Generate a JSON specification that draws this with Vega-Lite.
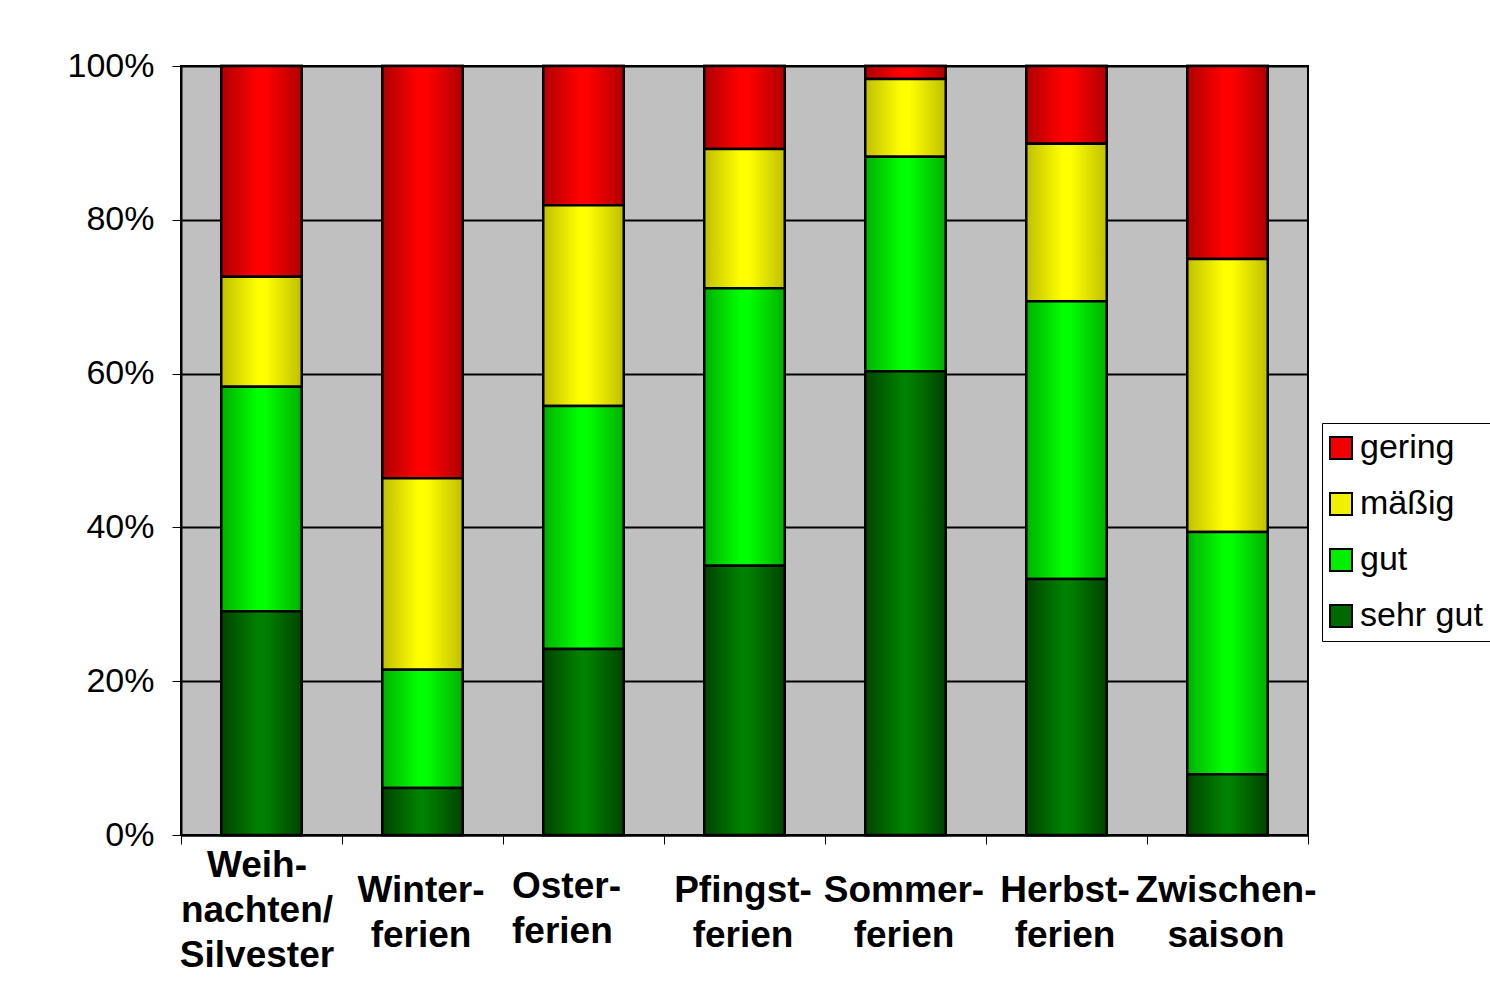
{
  "$schema": "https://vega.github.io/schema/vega-lite/v6.json",
  "width": 1127,
  "height": 769,
  "autosize": {"type": "none"},
  "padding": {"left": 181, "top": 66, "right": 182, "bottom": 166},
  "background": "white",
  "config": {
    "font": "Liberation Sans",
    "view": {"fill": "#C0C0C0", "stroke": "black", "strokeWidth": 2}
  },
  "data": {
    "values": [
      {"Zeit": "Weih-|nachten/|Silvester", "Bewertung": "sehr gut", "Anteil": 29.1},
      {"Zeit": "Weih-|nachten/|Silvester", "Bewertung": "gut", "Anteil": 29.2},
      {"Zeit": "Weih-|nachten/|Silvester", "Bewertung": "mäßig", "Anteil": 14.3},
      {"Zeit": "Weih-|nachten/|Silvester", "Bewertung": "gering", "Anteil": 27.4},
      {"Zeit": "Winter-|ferien", "Bewertung": "sehr gut", "Anteil": 6.1},
      {"Zeit": "Winter-|ferien", "Bewertung": "gut", "Anteil": 15.4},
      {"Zeit": "Winter-|ferien", "Bewertung": "mäßig", "Anteil": 24.9},
      {"Zeit": "Winter-|ferien", "Bewertung": "gering", "Anteil": 53.6},
      {"Zeit": "Oster-|ferien", "Bewertung": "sehr gut", "Anteil": 24.2},
      {"Zeit": "Oster-|ferien", "Bewertung": "gut", "Anteil": 31.6},
      {"Zeit": "Oster-|ferien", "Bewertung": "mäßig", "Anteil": 26.1},
      {"Zeit": "Oster-|ferien", "Bewertung": "gering", "Anteil": 18.1},
      {"Zeit": "Pfingst-|ferien", "Bewertung": "sehr gut", "Anteil": 35.0},
      {"Zeit": "Pfingst-|ferien", "Bewertung": "gut", "Anteil": 36.1},
      {"Zeit": "Pfingst-|ferien", "Bewertung": "mäßig", "Anteil": 18.1},
      {"Zeit": "Pfingst-|ferien", "Bewertung": "gering", "Anteil": 10.8},
      {"Zeit": "Sommer-|ferien", "Bewertung": "sehr gut", "Anteil": 60.3},
      {"Zeit": "Sommer-|ferien", "Bewertung": "gut", "Anteil": 27.9},
      {"Zeit": "Sommer-|ferien", "Bewertung": "mäßig", "Anteil": 10.1},
      {"Zeit": "Sommer-|ferien", "Bewertung": "gering", "Anteil": 1.7},
      {"Zeit": "Herbst-|ferien", "Bewertung": "sehr gut", "Anteil": 33.3},
      {"Zeit": "Herbst-|ferien", "Bewertung": "gut", "Anteil": 36.1},
      {"Zeit": "Herbst-|ferien", "Bewertung": "mäßig", "Anteil": 20.5},
      {"Zeit": "Herbst-|ferien", "Bewertung": "gering", "Anteil": 10.1},
      {"Zeit": "Zwischen-|saison", "Bewertung": "sehr gut", "Anteil": 7.9},
      {"Zeit": "Zwischen-|saison", "Bewertung": "gut", "Anteil": 31.5},
      {"Zeit": "Zwischen-|saison", "Bewertung": "mäßig", "Anteil": 35.5},
      {"Zeit": "Zwischen-|saison", "Bewertung": "gering", "Anteil": 25.1}
    ]
  },
  "transform": [
    {"stack": "Anteil", "groupby": ["Zeit"], "offset": "normalize", "as": ["y0", "y1"]}
  ],
  "encoding": {
    "x": {
      "field": "Zeit",
      "type": "nominal",
      "sort": null,
      "title": null,
      "scale": {"paddingInner": 0, "paddingOuter": 0},
      "axis": {
        "labelAngle": 0,
        "labelExpr": "split(datum.label, '|')",
        "labelFont": "Liberation Sans",
        "labelFontSize": 37,
        "labelFontWeight": "bold",
        "labelColor": "black",
        "labelLineHeight": 45,
        "labelBaseline": "middle",
        "labelAlign": {"condition": {"test": "datum.value == 'Oster-|ferien'", "value": "left"}, "value": "center"},
        "labelOffset": {"condition": [{"test": "datum.value == 'Oster-|ferien'", "value": -72}, {"test": "datum.value == 'Weih-|nachten/|Silvester'", "value": -5}], "value": -2},
        "labelPadding": {"condition": [{"test": "datum.value == 'Weih-|nachten/|Silvester'", "value": 21}, {"test": "datum.value == 'Oster-|ferien'", "value": 42}], "value": 46},
        "labelOverlap": false,
        "labelLimit": 0,
        "tickBand": "extent",
        "tickSize": 9,
        "tickColor": "black",
        "tickWidth": 1,
        "domainColor": "black",
        "domainWidth": 2
      }
    },
    "y": {
      "field": "y0",
      "type": "quantitative",
      "title": null,
      "scale": {"domain": [0, 1]},
      "axis": {
        "values": [0, 0.2, 0.4, 0.6, 0.8, 1],
        "format": ".0%",
        "labelFont": "Liberation Sans",
        "labelFontSize": 34,
        "labelColor": "black",
        "labelPadding": 18,
        "tickSize": 9,
        "tickColor": "black",
        "tickWidth": 1,
        "grid": true,
        "gridColor": "black",
        "gridWidth": 2,
        "gridOpacity": 1,
        "domainColor": "black",
        "domainWidth": 2
      }
    },
    "y2": {"field": "y1"}
  },
  "layer": [
    {
      "mark": {"type": "bar", "stroke": "black", "strokeWidth": 2.5, "width": {"band": 0.5}},
      "encoding": {
        "color": {
          "field": "Bewertung",
          "type": "nominal",
          "title": null,
          "scale": {
            "domain": ["gering", "mäßig", "gut", "sehr gut"],
            "range": ["#F00000", "#F0F000", "#00F000", "#006800"]
          },
          "legend": {
            "orient": "none",
            "legendX": 1141,
            "legendY": 357,
            "symbolType": "square",
            "symbolSize": 484,
            "symbolStrokeColor": "black",
            "symbolStrokeWidth": 2,
            "symbolOpacity": 1,
            "symbolOffset": -6,
            "labelFont": "Liberation Sans",
            "labelFontSize": 34,
            "labelColor": "black",
            "labelLimit": 0,
            "labelOffset": 2,
            "labelExpr": "indexof(datum.label, 'gering') >= 0 ? '\u2004gering' : datum.label",
            "rowPadding": 22,
            "padding": 8,
            "strokeColor": "black",
            "fillColor": "white"
          }
        }
      }
    },
    {
      "transform": [{"filter": "datum.Bewertung == 'gering'"}],
      "mark": {"type": "bar", "stroke": "black", "strokeWidth": 2.5, "width": {"band": 0.5},
        "fill": {"gradient": "linear", "x1": 0, "y1": 0, "x2": 1, "y2": 0, "stops": [{"offset": 0, "color": "#B00000"}, {"offset": 0.45, "color": "#FF0000"}, {"offset": 0.55, "color": "#FF0000"}, {"offset": 1, "color": "#B00000"}]}}
    },
    {
      "transform": [{"filter": "datum.Bewertung == 'mäßig'"}],
      "mark": {"type": "bar", "stroke": "black", "strokeWidth": 2.5, "width": {"band": 0.5},
        "fill": {"gradient": "linear", "x1": 0, "y1": 0, "x2": 1, "y2": 0, "stops": [{"offset": 0, "color": "#C0C000"}, {"offset": 0.45, "color": "#FFFF00"}, {"offset": 0.55, "color": "#FFFF00"}, {"offset": 1, "color": "#C0C000"}]}}
    },
    {
      "transform": [{"filter": "datum.Bewertung == 'gut'"}],
      "mark": {"type": "bar", "stroke": "black", "strokeWidth": 2.5, "width": {"band": 0.5},
        "fill": {"gradient": "linear", "x1": 0, "y1": 0, "x2": 1, "y2": 0, "stops": [{"offset": 0, "color": "#00B000"}, {"offset": 0.45, "color": "#00FF00"}, {"offset": 0.55, "color": "#00FF00"}, {"offset": 1, "color": "#00B000"}]}}
    },
    {
      "transform": [{"filter": "datum.Bewertung == 'sehr gut'"}],
      "mark": {"type": "bar", "stroke": "black", "strokeWidth": 2.5, "width": {"band": 0.5},
        "fill": {"gradient": "linear", "x1": 0, "y1": 0, "x2": 1, "y2": 0, "stops": [{"offset": 0, "color": "#004400"}, {"offset": 0.45, "color": "#008000"}, {"offset": 0.55, "color": "#008000"}, {"offset": 1, "color": "#004400"}]}}
    }
  ]
}
